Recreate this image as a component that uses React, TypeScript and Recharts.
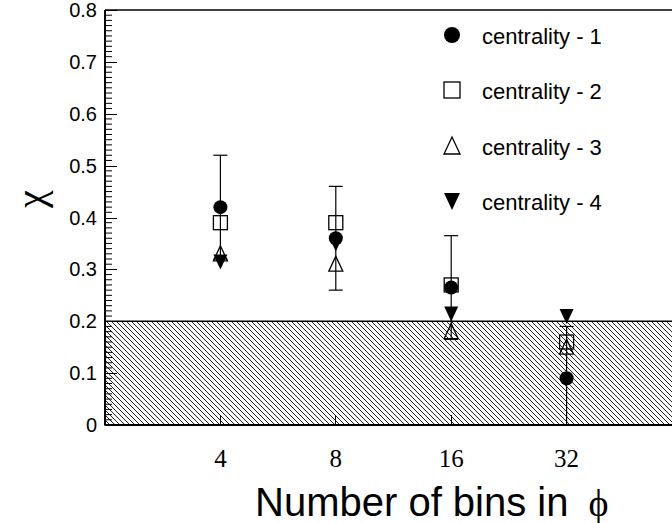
import React from 'react';
import { ScatterChart, Scatter, XAxis, YAxis, ErrorBar, ReferenceArea, ReferenceLine, Legend } from 'recharts';

// number of bins in phi
const bins = [4, 8, 16, 32];
// chi per centrality class
const c1 = [0.42, 0.36, 0.265, 0.09];
const c1ErrLow = [0.1, 0.1, 0.1, 0.09]; // last bar runs down to the axis
const c1ErrHigh = [0.1, 0.1, 0.1, 0.1];
const c2 = [0.39, 0.39, 0.27, 0.16];
const c3 = [0.33, 0.31, 0.18, 0.15];
const c4 = [0.315, 0.35, 0.215, 0.21];
const seriesNames = ['centrality - 1', 'centrality - 2', 'centrality - 3', 'centrality - 4'];
const markerKinds = ['circle', 'square', 'up', 'down'];

const majorTicks = [0, 0.1, 0.2, 0.3, 0.4, 0.5, 0.6, 0.7, 0.8];
const yTickLabels = ['0', '0.1', '0.2', '0.3', '0.4', '0.5', '0.6', '0.7', '0.8'];
const hatchTop = 0.2;

// 9 minor ticks between majors
const minorTicks: number[] = [];
majorTicks.slice(0, -1).forEach((t) => {
  for (let k = 1; k < 10; k++) minorTicks.push(Math.round((t + k * 0.01) * 1000) / 1000);
});

const toRows = (vals: number[], lo?: number[], hi?: number[]) =>
  bins.map((b, i) => ({ bin: b, v: vals[i], err: lo && hi ? [lo[i], hi[i]] : 0 }));

const d1 = toRows(c1, c1ErrLow, c1ErrHigh);
const d2 = toRows(c2);
const d3 = toRows(c3);
const d4 = toRows(c4);

const SANS = '"Liberation Sans", Arial, Helvetica, sans-serif';
const SERIF = '"Liberation Serif", "Times New Roman", serif';

const Marker = ({ kind, cx, cy, s = 7 }: any) => {
  if (kind === 'circle') return <circle cx={cx} cy={cy} r={s} fill="#000" />;
  if (kind === 'square')
    return <rect x={cx - s} y={cy - s} width={2 * s} height={2 * s} fill="none" stroke="#000" strokeWidth={1.3} />;
  if (kind === 'up')
    return <path d={`M${cx},${cy - s - 1}L${cx + s},${cy + s}L${cx - s},${cy + s}Z`} fill="none" stroke="#000" strokeWidth={1.3} />;
  return <path d={`M${cx - s},${cy - s}L${cx + s},${cy - s}L${cx},${cy + s + 1}Z`} fill="#000" />;
};

const YTick = ({ x, y, payload, index }: any) => {
  const yy = Math.round(y) + 0.5;
  return (
    <g>
      <line x1={x} y1={yy} x2={x + 12} y2={yy} stroke="#000" strokeWidth={1} shapeRendering="crispEdges" />
      <text x={x - 8} y={y + 7} textAnchor="end" fontFamily={SANS} fontSize={20} fill="#000">
        {yTickLabels[index] ?? payload.value}
      </text>
    </g>
  );
};

const XTick = ({ x, y, payload }: any) => (
  <g>
    <line x1={x} y1={y} x2={x} y2={y - 10} stroke="#000" strokeWidth={1} shapeRendering="crispEdges" />
    <text x={x} y={y + 42} textAnchor="middle" fontFamily={SERIF} fontSize={25} fill="#000">
      {payload.value}
    </text>
  </g>
);

const ChiLabel = () => (
  <text x={30} y={199} transform="rotate(-90 30 199)" textAnchor="middle" dominantBaseline="central"
    fontFamily={SERIF} fontSize={40} fill="#000">
    χ
  </text>
);

const BinsLabel = () => (
  <text x={255} y={516} fontFamily={SANS} fontSize={40} fill="#000">
    Number of bins in
    <tspan dx={20} fontFamily={SERIF} fontSize={38}>ϕ</tspan>
  </text>
);

const renderLegend = () => (
  <div style={{ fontFamily: SANS, fontSize: 22, color: '#000' }}>
    {seriesNames.map((n, i) => (
      <div key={n} style={{ display: 'flex', alignItems: 'center', height: 55.5 }}>
        <svg width={32} height={20} style={{ overflow: 'visible' }}>
          <Marker kind={markerKinds[i]} cx={16} cy={10} s={8} />
        </svg>
        <span style={{ marginLeft: 14, position: 'relative', top: 2, whiteSpace: 'nowrap' }}>{n}</span>
      </div>
    ))}
  </div>
);

export default function App() {
  return (
    <div style={{ position: 'absolute', left: 0, top: 0, width: 672, height: 523, overflow: 'hidden', background: '#fff' }}>
      <ScatterChart width={682} height={523} margin={{ top: 10, right: 0, bottom: 0, left: 0 }}>
        <defs>
          <pattern id="hatch" patternUnits="userSpaceOnUse" width={5} height={5}>
            <path d="M-1,-1L6,6M-1,4L1,6M4,-1L6,1" stroke="#222" strokeWidth={1} />
          </pattern>
        </defs>
        <XAxis
          type="number"
          dataKey="bin"
          scale="log"
          domain={[2, 64]}
          ticks={bins}
          interval={0}
          allowDataOverflow
          height={98}
          tickSize={0}
          tickMargin={0}
          tickLine={false}
          tick={<XTick />}
          axisLine={{ stroke: '#000', strokeWidth: 2 }}
          label={<BinsLabel />}
        />
        <YAxis
          type="number"
          dataKey="v"
          domain={[0, 0.8]}
          ticks={majorTicks}
          interval={0}
          allowDataOverflow
          width={105}
          tickSize={0}
          tickMargin={0}
          tickLine={false}
          tick={<YTick />}
          axisLine={{ stroke: '#000', strokeWidth: 2 }}
          label={<ChiLabel />}
        />
        <ReferenceArea y1={0} y2={hatchTop} fill="url(#hatch)" fillOpacity={1} stroke="#000" strokeWidth={1.5} />
        <ReferenceLine y={0.8} stroke="#000" strokeWidth={1.5} />
        {/* minor y ticks: only the first 7px of each line is drawn */}
        {minorTicks.map((t) => (
          <ReferenceLine key={t} y={t} stroke="#000" strokeWidth={1} strokeDasharray="7 3000" />
        ))}
        <Legend
          layout="vertical"
          align="center"
          verticalAlign="middle"
          content={renderLegend}
          wrapperStyle={{ position: 'absolute', left: 436, top: 7, width: 230 }}
        />
        <Scatter name={seriesNames[0]} data={d1} isAnimationActive={false}
          shape={(p: any) => <Marker kind="circle" cx={p.cx} cy={p.cy} />}>
          <ErrorBar dataKey="err" direction="y" width={7} stroke="#000" strokeWidth={1.2} />
        </Scatter>
        <Scatter name={seriesNames[1]} data={d2} isAnimationActive={false}
          shape={(p: any) => <Marker kind="square" cx={p.cx} cy={p.cy} />} />
        <Scatter name={seriesNames[2]} data={d3} isAnimationActive={false}
          shape={(p: any) => <Marker kind="up" cx={p.cx} cy={p.cy} />} />
        <Scatter name={seriesNames[3]} data={d4} isAnimationActive={false}
          shape={(p: any) => <Marker kind="down" cx={p.cx} cy={p.cy} />} />
      </ScatterChart>
    </div>
  );
}
